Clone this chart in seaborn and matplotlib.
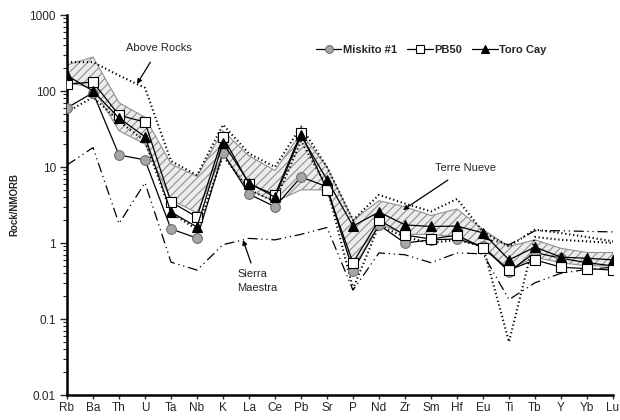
import numpy as np
import pandas as pd
import matplotlib
matplotlib.use("Agg")
import matplotlib.pyplot as plt
import seaborn as sns
from matplotlib.ticker import LogLocator, FixedLocator, FixedFormatter, NullFormatter

elements = ["Rb", "Ba", "Th", "U", "Ta", "Nb", "K", "La", "Ce", "Pb", "Sr",
            "P", "Nd", "Zr", "Sm", "Hf", "Eu", "Ti", "Tb", "Y", "Yb", "Lu"]

miskito = [60, 95, 14.4, 12.4, 1.53, 1.16, 15.3, 4.4, 3.0, 7.4, 5.5,
           0.43, 1.73, 1.0, 1.1, 1.13, 0.9, 0.42, 0.75, 0.63, 0.55, 0.5]
pb50 = [123, 131, 48, 39, 3.46, 2.2, 25, 6.0, 4.3, 28, 5.0,
        0.55, 2.0, 1.27, 1.13, 1.27, 0.86, 0.44, 0.6, 0.48, 0.46, 0.44]
toro_cay = [160, 100, 44, 25, 2.56, 1.62, 21, 6.2, 4.0, 26, 6.8,
            1.67, 2.56, 1.73, 1.65, 1.67, 1.36, 0.6, 0.885, 0.65, 0.63, 0.6]

terre_hi = [220, 280, 70, 45, 11, 7.5, 30, 14, 9, 28, 10,
            2.0, 3.6, 3.0, 2.3, 2.8, 1.5, 0.9, 1.1, 0.85, 0.75, 0.75]
terre_lo = [130, 110, 30, 20, 3.7, 2.5, 15, 5, 3.5, 5, 5,
            0.45, 1.8, 1.3, 1.3, 1.2, 0.9, 0.45, 0.65, 0.55, 0.5, 0.5]

above_hi = [240, 240, 160, 110, 12, 7.8, 36, 15, 10, 34, 10,
            2.0, 4.3, 3.3, 2.6, 3.8, 1.4, 0.9, 1.5, 1.35, 1.2, 1.05]
above_lo = [53, 83, 40, 22, 2.5, 1.5, 14, 5, 3.5, 22, 5.5,
            0.25, 1.7, 1.2, 1.0, 1.1, 0.9, 0.05, 1.2, 1.1, 1.05, 1.0]

sierra_lo = [10.6, 18, 1.8, 6.2, 0.56, 0.44, 0.95, 1.15, 1.1, 1.3, 1.6,
             0.24, 0.74, 0.7, 0.55, 0.74, 0.72, 0.18, 0.3, 0.4, 0.45, 0.48]
# upper Sierra Maestra envelope, visible only from Eu to Lu
sierra_hi_elements = ["Eu", "Ti", "Tb", "Y", "Yb", "Lu"]
sierra_hi = [1.15, 0.95, 1.45, 1.45, 1.42, 1.4]

series_names = ["Miskito #1", "PB50", "Toro Cay"]

sns.set_theme(style="white")
plt.rcParams["font.family"] = ["Liberation Sans", "DejaVu Sans"]
plt.rcParams["hatch.color"] = "#8a8a8a"
plt.rcParams["hatch.linewidth"] = 0.8

fig = plt.figure(figsize=(6.2, 4.2), dpi=100)
ax = fig.add_axes([67 / 620, 25 / 420, 546 / 620, 380 / 420])

x = np.arange(len(elements))

# Terre Nueve field
ax.fill_between(x, terre_lo, terre_hi, facecolor="#ececec", edgecolor="#909090",
                hatch="////", linewidth=0.8, zorder=1)

# envelopes
dash_dot = (0, (8, 3, 1, 3, 1, 3))
df_env = pd.DataFrame({"x": x, "ahi": above_hi, "alo": above_lo, "slo": sierra_lo})
sns.lineplot(data=df_env, x="x", y="ahi", ax=ax, color="black", lw=1.5,
             linestyle=(0, (0.6, 1.3)), zorder=2)
sns.lineplot(data=df_env, x="x", y="alo", ax=ax, color="black", lw=1.5,
             linestyle=(0, (0.6, 1.3)), zorder=2)
sns.lineplot(data=df_env, x="x", y="slo", ax=ax, color="black", lw=0.9,
             linestyle=dash_dot, zorder=2)
df_shi = pd.DataFrame({"x": [elements.index(e) for e in sierra_hi_elements], "v": sierra_hi})
sns.lineplot(data=df_shi, x="x", y="v", ax=ax, color="black", lw=0.9,
             linestyle=dash_dot, zorder=2)

# sample series
styles = {
    "Miskito #1": dict(marker="o", mfc="#a6a6a6", mec="#707070", ms=7),
    "PB50": dict(marker="s", mfc="white", mec="black", ms=6.5),
    "Toro Cay": dict(marker="^", mfc="black", mec="black", ms=7),
}
for name, vals in zip(series_names, [miskito, pb50, toro_cay]):
    d = pd.DataFrame({"x": x, "v": vals})
    st = styles[name]
    sns.lineplot(data=d, x="x", y="v", ax=ax, color="black", lw=0.9,
                 marker=st["marker"], markerfacecolor=st["mfc"],
                 markeredgecolor=st["mec"], markersize=st["ms"],
                 markeredgewidth=0.8, label=name, zorder=4)

ax.set_yscale("log")
ax.set_ylim(0.01, 1000)
ax.set_xlim(0, len(elements) - 1)
ax.set_xticks(x)
ax.set_xticklabels(elements, fontsize=8.5)
ax.yaxis.set_major_locator(FixedLocator([0.01, 0.1, 1, 10, 100, 1000]))
ax.yaxis.set_major_formatter(FixedFormatter(["0.01", "0.1", "1", "10", "100", "1000"]))
ax.yaxis.set_minor_locator(LogLocator(base=10, subs=np.arange(2, 10)))
ax.yaxis.set_minor_formatter(NullFormatter())
ax.tick_params(axis="y", which="major", labelsize=8.5, length=5, width=1, direction="out", left=True, pad=3)
ax.tick_params(axis="y", which="minor", length=3, width=0.8, direction="out", left=True)
ax.tick_params(axis="x", which="major", length=3, width=1, direction="out", bottom=True, pad=2)
ax.set_xlabel("")
ax.set_ylabel("Rock/NMORB", fontsize=7, fontweight="bold", labelpad=7)
for s in ["top", "right"]:
    ax.spines[s].set_visible(False)
for s in ["left", "bottom"]:
    ax.spines[s].set_linewidth(1.8)
    ax.spines[s].set_color("black")
ax.grid(False)

leg = ax.legend(loc="center", bbox_to_anchor=(0.667, 0.908), ncol=3, frameon=False,
                handlelength=2.3, handletextpad=0.15, columnspacing=0.9,
                markerscale=0.8, prop={"weight": "bold", "size": 8})

def px2data(px, py):
    # pixel (from top-left) -> data coords
    xd = (px - 67) / 546 * (len(elements) - 1)
    yd = 10 ** (3 - (py - 15) / 76)
    return xd, yd

ax.annotate("Above Rocks", xy=px2data(137, 84), xytext=px2data(159, 48),
            ha="center", va="center", fontsize=8,
            arrowprops=dict(arrowstyle="-|>", color="black", lw=0.9, mutation_scale=7,
                            shrinkA=5, shrinkB=0))
ax.annotate("Terre Nueve", xy=px2data(403, 210), xytext=px2data(466, 168),
            ha="center", va="center", fontsize=8,
            arrowprops=dict(arrowstyle="-|>", color="black", lw=0.9, mutation_scale=7,
                            shrinkA=5, shrinkB=0))
ax.annotate("", xy=px2data(243, 240), xytext=px2data(251, 263),
            arrowprops=dict(arrowstyle="-|>", color="black", lw=0.9, mutation_scale=7,
                            shrinkA=0, shrinkB=0))
ax.text(*px2data(237, 281), "Sierra\nMaestra", ha="left", va="center", fontsize=8,
        linespacing=1.5)

fig.savefig("out.png", dpi=100)
